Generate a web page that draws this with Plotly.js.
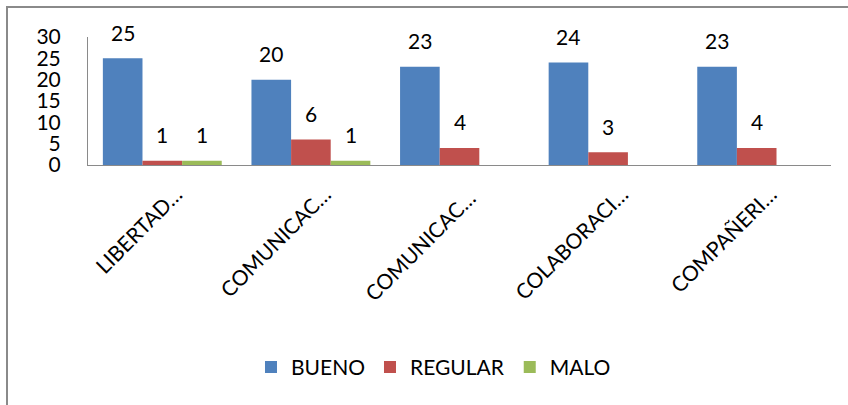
<!DOCTYPE html>
<html>
<head>
<meta charset="utf-8">
<script src="https://cdn.plot.ly/plotly-3.0.1.min.js"></script>
<style>
  html, body { margin: 0; padding: 0; background: #fff; }
  #wrap { position: relative; width: 848px; height: 405px; overflow: hidden; }
  #frame { position: absolute; left: 6px; top: 6px; width: 900px; height: 500px;
           border-left: 2px solid #8a8a8a; border-top: 2px solid #8a8a8a; }
  #chart { position: absolute; left: 0; top: 0; width: 848px; height: 405px; }
</style>
</head>
<body>
<div id="wrap">
  <div id="frame"></div>
  <div id="chart"></div>
</div>
<script>
// Survey results per value, grouped by rating
const categories = ['LIBERTAD…', 'COMUNICAC…', 'COMUNICAC… ', 'COLABORACI…', 'COMPAÑERI…'];
const bueno   = [25, 20, 23, 24, 23];
const regular = [1, 6, 4, 3, 4];
const malo    = [1, 1, null, null, null];

const seriesNames  = ['BUENO', 'REGULAR', 'MALO'];
const seriesValues = [bueno, regular, malo];
const seriesColors = ['#4F81BD', '#C0504D', '#9BBB59'];

const W = 848, H = 405;
const margin = { l: 88, r: 17, t: 37, b: 240 };
const bargap = 0.2;
const FONT = 'Lato, Calibri, Carlito, sans-serif';

const traces = seriesValues.map((vals, i) => ({
  type: 'bar',
  name: seriesNames[i],
  x: categories,
  y: vals,
  marker: { color: seriesColors[i], line: { width: 0 } },
  hoverinfo: 'skip'
}));

// value labels sit above each bar, centred on its slot in the group
const slotPx = (W - margin.l - margin.r) / categories.length * (1 - bargap) / seriesValues.length;
const annotations = [];
seriesValues.forEach((vals, i) => {
  vals.forEach((v, j) => {
    if (v === null) return;
    annotations.push({
      x: categories[j], y: v, xref: 'x', yref: 'y',
      text: String(v), showarrow: false,
      xshift: (i - (seriesValues.length - 1) / 2) * slotPx,
      yshift: 26, yanchor: 'middle',
      font: { family: FONT, size: 21, color: '#000' }
    });
  });
});

const layout = {
  width: W, height: H,
  margin: margin,
  paper_bgcolor: 'rgba(0,0,0,0)',
  plot_bgcolor: 'rgba(0,0,0,0)',
  barmode: 'group',
  bargap: bargap,
  bargroupgap: 0,
  showlegend: true,
  legend: {
    orientation: 'h', x: 0.465, xanchor: 'center', y: -1.58, yanchor: 'middle',
    font: { family: FONT, size: 21, color: '#000' },
    traceorder: 'normal'
  },
  xaxis: {
    type: 'category',
    tickangle: -45,
    tickfont: { family: FONT, size: 21, color: '#000' },
    showline: true, linecolor: '#8a8a8a', linewidth: 1,
    showgrid: false, ticks: '', zeroline: false,
    ticklabelshift: 14,
    ticklabelstandoff: 8
  },
  yaxis: {
    range: [0, 30], dtick: 5, tick0: 0,
    tickfont: { family: FONT, size: 21, color: '#000' },
    showline: true, linecolor: '#8a8a8a', linewidth: 1,
    showgrid: false, ticks: '', zeroline: false,
    ticklabelstandoff: 22
  },
  annotations: annotations
};

Plotly.newPlot('chart', traces, layout, { displayModeBar: false, staticPlot: true });
</script>
</body>
</html>
